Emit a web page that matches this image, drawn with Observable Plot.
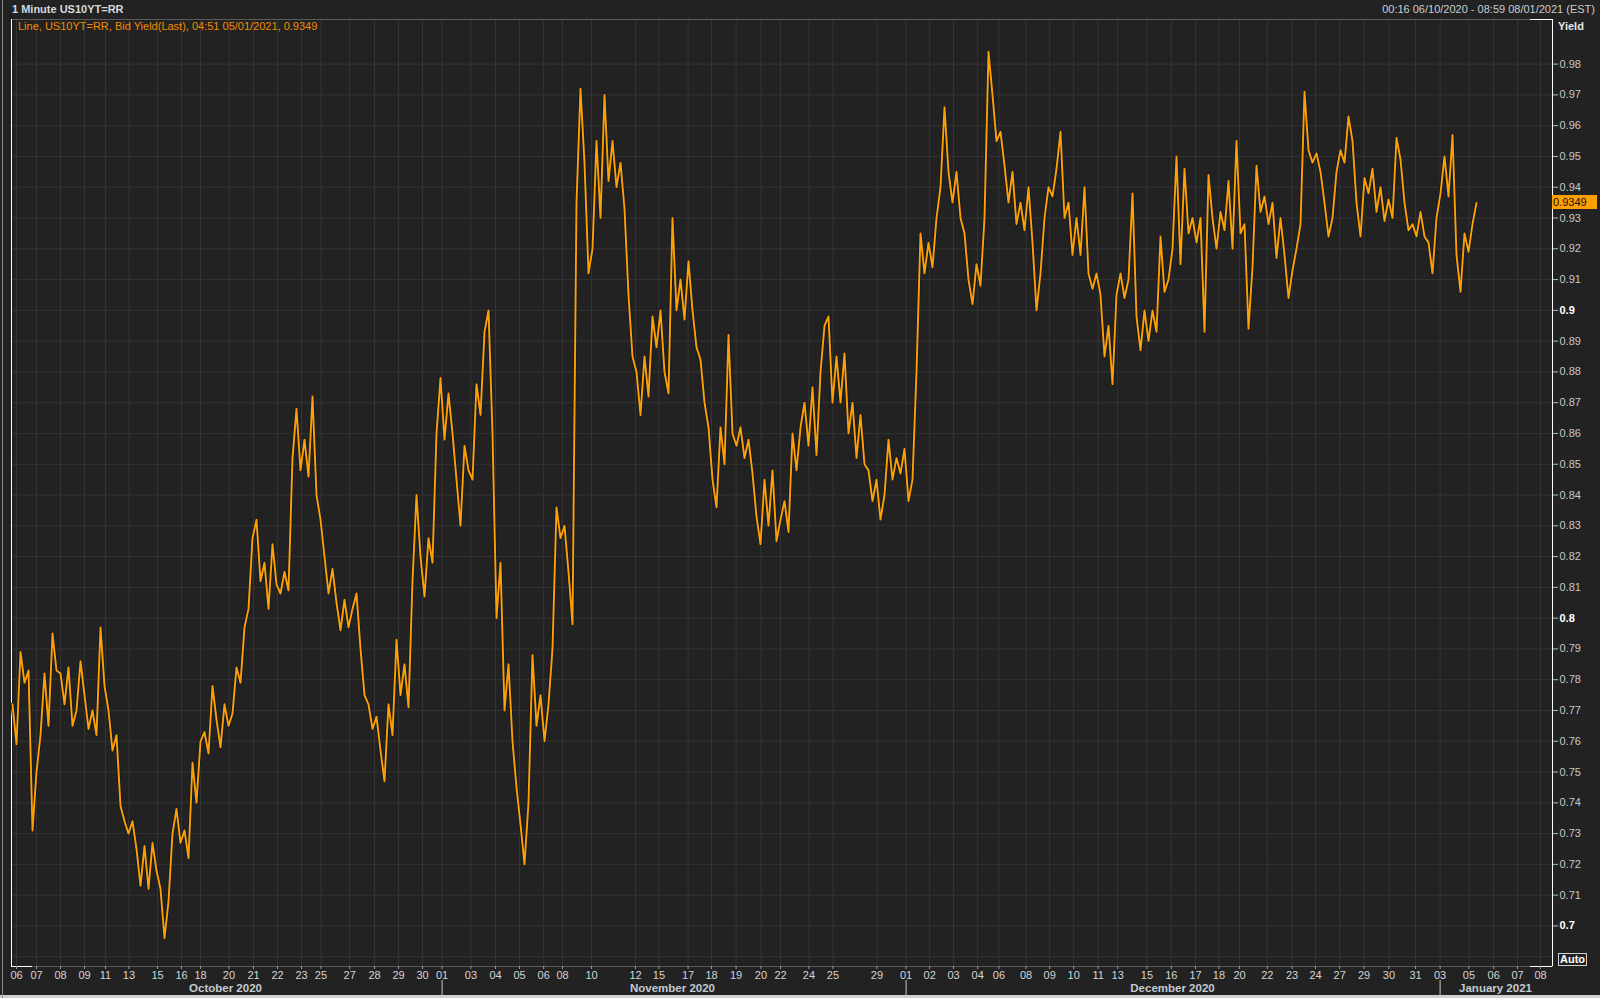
<!DOCTYPE html>
<html><head><meta charset="utf-8">
<script src="https://cdn.jsdelivr.net/npm/d3@7"></script>
<script src="https://cdn.jsdelivr.net/npm/@observablehq/plot@0.6"></script>
<style>
body{margin:0;background:#222222;font-family:"Liberation Sans",Arial,sans-serif;}
#wrap{position:relative;width:1600px;height:998px;overflow:hidden;background:#222222}
.abs{position:absolute;white-space:nowrap;font-size:11px;line-height:13px}
</style></head><body><div id="wrap"></div>
<script>
const yields = [
.772,.759,.789,.779,.783,.731,.750,.762,.782,.765,
.795,.783,.782,.772,.784,.765,.770,.786,.775,.764,
.770,.762,.797,.778,.770,.757,.762,.739,.734,.730,
.734,.725,.713,.726,.712,.727,.718,.712,.696,.708,
.730,.738,.727,.731,.722,.753,.740,.760,.763,.756,
.778,.767,.758,.772,.765,.769,.784,.779,.797,.803,
.826,.832,.812,.818,.803,.824,.811,.808,.815,.809,
.852,.868,.848,
.858,.846,.872,.840,.832,.820,.808,.816,.805,.796,
.806,.797,.803,.808,.790,.775,.772,.764,.768,.757,
.747,.772,.762,.793,.775,.785,.771,.812,.840,.820,
.807,.826,.818,.860,.878,.858,.873,.860,.845,.830,
.856,.848,.845,.876,.866,.893,.900,.860,.800,.818,
.770,.785,.760,.745,.733,.720,.740,.788,.765,.775,
.760,.772,.790,.836,.826,.830,.815,.798,.935,.972,
.948,.912,.920,.955,.930,.970,.942,
.955,.940,.948,.933,.905,.885,.880,.866,.885,.872,
.898,.888,.900,.880,.873,.930,.900,.910,.897,.916,
.900,.888,.884,.870,.862,.845,.836,.862,.850,.892,
.860,.856,.862,.852,.858,.847,.833,.824,.845,.830,
.848,.825,.832,.838,.828,.860,.848,.862,.870,.856,
.875,.853,.880,.895,.898,.870,.885,.870,.886,.860,
.870,.852,.866,.850,.848,.838,.845,.832,.840,.858,
.845,.852,.847,.855,.838,.845,
.880,.925,.912,.922,.914,.930,.940,.966,.945,.935,
.945,.930,.925,.910,.902,.915,.908,.930,.984,.970,
.955,.958,.947,.935,.945,.928,.935,.926,.940,.922,
.900,.912,.930,.940,.937,.946,.958,.930,.935,.918,
.930,.918,.940,.912,.907,.912,.905,.885,.895,.876,
.905,.912,.904,.910,.938,.898,.887,.900,.890,.900,
.893,.924,.906,.910,.920,.950,.915,.946,.925,.930,
.922,.930,.893,.944,
.930,.920,.932,.926,.942,.920,.955,.925,.928,.894,
.914,.947,.932,.937,.928,.935,.917,.930,.918,.904,
.913,.920,.928,.971,.952,.948,.951,.945,.935,.924,
.930,.945,.952,.948,.963,.955,.935,.924,.943,.938,
.946,.932,.940,.929,.936,.930,.956,.949,.935,.926,
.928,.924,.932,.924,.922,.912,.930,.938,.950,.937,
.957,.918,.906,.925,.919,.928,.9349
];
// session-slot positions of the date ticks and their labels
const tickPos = [1,6,12,18,23.25,29.1,36.25,42.25,47,54.1,60.25,66.25,72.25,77.1,84.3,90.5,96.5,102.5,
  107.4,114.6,120.75,126.75,132.8,137.5,144.75,155.75,161.6,168.9,174.75,180.9,187.1,192,199.1,205.1,216.1,
  223.4,229.3,235.25,241.3,246.6,253.4,259.3,265.3,271.4,276.3,283.6,289.7,295.75,301.6,306.75,313.7,319.9,325.75,331.8,337.9,344.1,350.75,
  356.9,364.1,370.3,376.25,382];
const tickLabels = ["06","07","08","09","11","13","15","16","18","20","21","22","23","25","27","28","29","30",
  "01","03","04","05","06","08","10","12","15","17","18","19","20","22","24","25","29",
  "01","02","03","04","06","08","09","10","11","13","15","16","17","18","20","22","23","24","27","29","30","31",
  "03","05","06","07","08"];
const months = ["October 2020","November 2020","December 2020","January 2021"];
const monthCenters = [53.25,165,290,370.75];
const monthStarts = [107.4,223.4,356.9];
const yLabelTicks = d3.range(70,99).map(d=>d/100);
const yBoldTicks = [0.7,0.8,0.9];
const yGridTicks = d3.range(69,99).map(d=>d/100);
const xDomain = [-0.25,385];
const yDomain = [0.68682,0.99449];
const lastValue = yields[yields.length-1];

const labelMap = new Map(tickPos.map((p,i)=>[p,tickLabels[i]]));
const fmt = d => String(+d.toFixed(2));
const normalTicks = yLabelTicks.filter(t=>!yBoldTicks.some(b=>Math.abs(b-t)<1e-9));

const chart = Plot.plot({
  width:1600, height:998, marginLeft:11, marginRight:48, marginTop:19, marginBottom:32,
  style:{background:"#222222", color:"#c8c8c8", fontFamily:"Liberation Sans, Arial, sans-serif", fontSize:"11px"},
  x:{domain:xDomain},
  y:{domain:yDomain},
  marks:[
    Plot.gridX(tickPos,{stroke:"#343434", strokeOpacity:1}),
    Plot.gridY(yGridTicks,{stroke:"#343434", strokeOpacity:1}),
    Plot.frame({stroke:"#5a5a5a"}),
    Plot.ruleX([xDomain[0], xDomain[1]],{stroke:"#ffffff"}),
    Plot.ruleY([yDomain[0]],{x1:xDomain[0], x2:xDomain[0]+5.25, stroke:"#ffffff"}),
    Plot.ruleY([yDomain[0], yDomain[1]],{x1:xDomain[1]-5.5, x2:xDomain[1], stroke:"#ffffff"}),
    Plot.axisX(tickPos,{anchor:"bottom", tickSize:3, tickPadding:2, tickFormat:d=>labelMap.get(d), stroke:"#9a9a9a", fill:"#d4d4d4", label:null}),
    Plot.axisY(normalTicks,{anchor:"right", tickSize:5, tickPadding:2, tickFormat:fmt, stroke:"#bbbbbb", fill:"#c4c8cc", label:null}),
    Plot.axisY(yBoldTicks,{anchor:"right", tickSize:5, tickPadding:2, tickFormat:fmt, stroke:"#bbbbbb", fill:"#ffffff", fontWeight:"bold", label:null}),
    Plot.text(months,{x:(d,i)=>monthCenters[i], frameAnchor:"bottom", dy:25, fill:"#c4cad0", fontWeight:"bold", fontSize:11.5}),
    Plot.ruleX(monthStarts,{stroke:"#cccccc", dy:32, insetTop:929}),
    Plot.line(yields,{x:(d,i)=>i, y:d=>d, stroke:"#121a28", strokeWidth:3.6}),
    Plot.line(yields,{x:(d,i)=>i, y:d=>d, stroke:"#ffa000", strokeWidth:1.9})
  ]
});

const wrap = document.getElementById("wrap");
wrap.appendChild(chart);
chart.style.position="absolute"; chart.style.left="0"; chart.style.top="0";

function add(text, css){
  const d=document.createElement("div"); d.className="abs"; d.textContent=text;
  Object.assign(d.style, css); wrap.appendChild(d); return d;
}
add("1 Minute US10YT=RR",{left:"12px",top:"3px",fontWeight:"bold",color:"#d6d9dc"});
add("00:16 06/10/2020 - 08:59 08/01/2021 (EST)",{right:"5px",top:"3px",color:"#c8ccd0"});
add("Line, US10YT=RR, Bid Yield(Last), 04:51 05/01/2021, "+lastValue,{left:"18px",top:"20px",color:"#f08c00"});
add("Yield",{left:"1558px",top:"20px",fontWeight:"bold",color:"#e4e6e8"});
const yPix = chart.scale("y").apply(lastValue);
add(String(lastValue),{left:"1552px",top:(yPix-7)+"px",width:"44px",height:"14px",lineHeight:"14px",background:"#ffa000",color:"#111111",paddingLeft:"1px"});
add("Auto",{left:"1558px",top:"953px",height:"11px",lineHeight:"11px",padding:"0 1px",border:"1px solid #d0d0d0",fontWeight:"bold",color:"#ffffff",fontSize:"11px"});
const strip=document.createElement("div");
Object.assign(strip.style,{position:"absolute",left:"0",top:"995px",width:"1600px",height:"3px",background:"#cfcfcf"});
wrap.appendChild(strip);
const lb=document.createElement("div");
Object.assign(lb.style,{position:"absolute",left:"2px",top:"0",width:"1px",height:"998px",background:"#8a8a8a"});
wrap.appendChild(lb);
</script></body></html>
